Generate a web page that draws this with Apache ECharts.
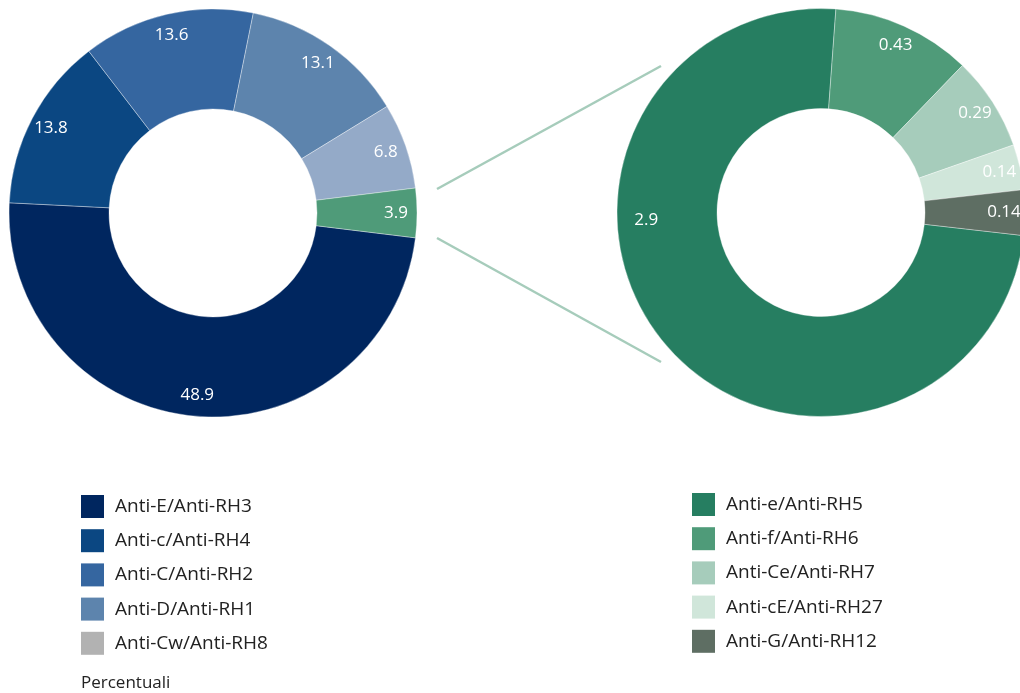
<!DOCTYPE html>
<html>
<head>
<meta charset="utf-8">
<script src="https://cdn.jsdelivr.net/npm/echarts@6/dist/echarts.min.js"></script>
<style>
  html, body { margin: 0; padding: 0; background: #fff; }
  #chart { width: 1020px; height: 693px; }
</style>
</head>
<body>
<div id="chart"></div>
<script>
// left donut: main antibodies (percent)
const leftNames = ["Anti-E/Anti-RH3", "Anti-c/Anti-RH4", "Anti-C/Anti-RH2", "Anti-D/Anti-RH1", "Anti-Cw/Anti-RH8", "Altri"];
const leftValues = [48.9, 13.8, 13.6, 13.1, 6.8, 3.9];
const leftColors = ["#00265f", "#0b4782", "#3566a0", "#5d84ad", "#94aac8", "#4f9b79"];
const leftLegendColors = ["#00265f", "#0b4782", "#3566a0", "#5d84ad", "#b2b2b2"];

// right donut: breakdown of the 3.9 slice
const rightNames = ["Anti-e/Anti-RH5", "Anti-f/Anti-RH6", "Anti-Ce/Anti-RH7", "Anti-cE/Anti-RH27", "Anti-G/Anti-RH12"];
const rightValues = [2.9, 0.43, 0.29, 0.14, 0.14];
const rightColors = ["#267e61", "#4f9b79", "#a6ccbb", "#d0e6da", "#5e6e63"];

const FONT = "Open Sans";
const leftCenter = [213, 213];
const rightCenter = [821, 212.5];
const ring = [104, 204];
const labelRing = [156, 204];

const toData = (names, values, colors) =>
    names.map((n, i) => ({ name: n, value: values[i], itemStyle: { color: colors[i] } }));

const mainPie = (center, startAngle, data) => ({
    type: "pie",
    center: center,
    radius: ring,
    startAngle: startAngle,
    data: data,
    label: { show: false },
    labelLine: { show: false },
    itemStyle: { borderColor: "rgba(255,255,255,0.6)", borderWidth: 0.6 },
    emphasis: { disabled: true },
    animation: false
});

// transparent ring carrying the value labels near the outer edge
const labelPie = (center, startAngle, data, layout) => ({
    type: "pie",
    center: center,
    radius: labelRing,
    startAngle: startAngle,
    silent: true,
    data: data.map(d => ({ name: d.name, value: d.value })),
    itemStyle: { color: "transparent", borderWidth: 0 },
    label: {
        show: true,
        position: "inside",
        formatter: "{c}",
        color: "#fff",
        fontFamily: FONT,
        fontSize: 17
    },
    labelLine: { show: false },
    labelLayout: layout,
    emphasis: { disabled: true },
    animation: false
});

const legendBlock = (left, top, names, colors) => ({
    orient: "vertical",
    left: left,
    top: top,
    padding: 0,
    itemWidth: 23,
    itemHeight: 23,
    itemGap: 11.2,
    icon: "rect",
    selectedMode: false,
    itemStyle: { borderWidth: 0 },
    textStyle: { fontFamily: FONT, fontSize: 19, lineHeight: 23, color: "#222", padding: [0, 0, 0, 6] },
    data: names.map((n, i) => ({ name: n, itemStyle: { color: colors[i], borderWidth: 0 } }))
});

const leftData = toData(leftNames, leftValues, leftColors);
const rightData = toData(rightNames, rightValues, rightColors);

// the big 2.9 label sits on the left side of the ring, not at the slice middle
const bigLabelAngle = 182.5;
const bigLabelR = 175;
const rightLayout = (params) => {
    if (params.dataIndex !== 0) return {};
    const a = bigLabelAngle * Math.PI / 180;
    return {
        x: rightCenter[0] + bigLabelR * Math.cos(a),
        y: rightCenter[1] - bigLabelR * Math.sin(a)
    };
};

const chart = echarts.init(document.getElementById("chart"), null, { renderer: "canvas" });

const option = {
    backgroundColor: "#fff",
    animation: false,
    title: {
        text: "Percentuali",
        left: 81,
        top: 675,
        padding: 0,
        textStyle: { fontFamily: FONT, fontSize: 17, fontWeight: "normal", color: "#222" }
    },
    legend: [
        legendBlock(81, 495, leftNames.slice(0, 5), leftLegendColors),
        legendBlock(692, 493, rightNames, rightColors)
    ],
    graphic: [
        { type: "line", shape: { x1: 437, y1: 189, x2: 661, y2: 66 }, style: { stroke: "#a6ccbb", lineWidth: 2.5 } },
        { type: "line", shape: { x1: 437, y1: 238, x2: 661, y2: 362 }, style: { stroke: "#a6ccbb", lineWidth: 2.5 } }
    ],
    series: [
        mainPie(leftCenter, -7, leftData),
        mainPie(rightCenter, -6.5, rightData),
        labelPie(leftCenter, -7, leftData),
        labelPie(rightCenter, -6.5, rightData, rightLayout)
    ]
};

chart.setOption(option);
</script>
</body>
</html>
